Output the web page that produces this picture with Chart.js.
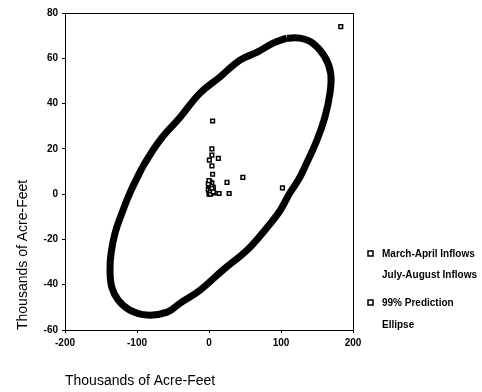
<!DOCTYPE html>
<html><head><meta charset="utf-8">
<script src="https://cdn.jsdelivr.net/npm/chart.js@4"></script>
<style>html,body{margin:0;padding:0;background:#fff}#w{width:482px;height:392px}</style>
</head><body><div id="w"><canvas id="c"></canvas></div>
<script>
const xTicks = [-200, -100, 0, 100, 200];
const yTicks = [-60, -40, -20, 0, 20, 40, 60, 80];
const marchAprilX = [183, 5, 4, 4, 0.5, 13, 4, 5, 25, 47, 102, 14, 28, 0, 1, 2, 3, 0, 2, 4, 1, 3, 5, 0, 6, 2, 7, -1, 1, 3, -1, 2, 4, 6, 0];
const marchAprilY = [74, 32.3, 20, 17.2, 15, 15.8, 12.5, 8.8, 5.2, 7.4, 2.8, 0.3, 0.3, 0, 1, 2, 0.5, 3, 4, 5, 5.5, 2, 1, 1.5, 3, 0, 0.5, 2, 3.5, 3.5, 4.5, 1.5, 2.5, 1, 6];
const julyAugustX = [];
const julyAugustY = [];
const ellipseX = [108, 126, 144, 161, 169, 168, 161, 150, 133, 124, 112, 99, 81, 53, 19, -12.5, -40, -58, -86, -110, -126, -135, -137.5, -136, -130.5, -121, -110, -100, -90, -68, -40, -12.5, 15, 43, 67, 89, 108];
const ellipseY = [68.9, 68.9, 66.7, 60.5, 53.4, 44.6, 34.0, 23.9, 11.9, 6.2, 0.4, -7.1, -14.6, -24.7, -33.6, -42.4, -48.1, -52.1, -53.4, -51.2, -46.8, -41.1, -33.6, -26.1, -17.2, -8.4, 0.4, 7.1, 13.2, 23.9, 34.0, 44.6, 51.7, 59.2, 62.7, 66.7, 68.9];
const legendLabels = [["March-April Inflows"], ["July-August Inflows"], ["99% Prediction", "Ellipse"]];
const axisTitle = "Thousands of Acre-Feet";

const pts = (xs, ys) => xs.map((x, i) => ({x, y: ys[i]}));
const FONT = "'Liberation Sans', Arial, sans-serif";

const framePlugin = {
  id: 'frame',
  afterDraw(chart) {
    const {ctx, chartArea: a} = chart;
    ctx.save();
    ctx.strokeStyle = '#000';
    ctx.lineWidth = 1;
    ctx.strokeRect(Math.round(a.left) + 0.5, Math.round(a.top) + 0.5, Math.round(a.right - a.left), Math.round(a.bottom - a.top));
    // legend
    ctx.fillStyle = '#000';
    ctx.font = "bold 10px " + FONT;
    ctx.textBaseline = 'middle';
    ctx.textAlign = 'left';
    const rows = [[254, true], [275, false], [303, true]];
    legendLabels.forEach((lines, i) => {
      const [y, marker] = rows[i];
      if (marker) {
        ctx.lineWidth = 1.5;
        ctx.strokeRect(368, y - 3, 5, 5);
      }
      lines.forEach((t, j) => ctx.fillText(t, 382, y + j * 22));
    });
    ctx.restore();
  }
};

new Chart(document.getElementById('c'), {
  type: 'scatter',
  data: {
    datasets: [
      {label: legendLabels[2].join(' '), data: pts(ellipseX, ellipseY), showLine: true, tension: 0.4,
       borderColor: '#000', borderWidth: 7, pointRadius: 0, fill: false},
      {label: legendLabels[0][0], data: pts(marchAprilX, marchAprilY), pointStyle: 'rect',
       pointRadius: 2.6, borderWidth: 1.5, borderColor: '#000', backgroundColor: '#fff'},
      {label: legendLabels[1][0], data: pts(julyAugustX, julyAugustY), pointRadius: 0}
    ]
  },
  options: {
    responsive: true, maintainAspectRatio: false, animation: false,
    layout: {padding: {top: 13, right: 129, left: 0, bottom: 0}},
    plugins: {legend: {display: false}, tooltip: {enabled: false}},
    scales: {
      x: {
        min: -200, max: 200,
        afterBuildTicks: s => { s.ticks = xTicks.map(v => ({value: v})); },
        afterFit: s => { s.height = 62; },
        ticks: {color: '#000', font: {family: FONT, size: 10, weight: 'bold'}, padding: 4, maxRotation: 0},
        grid: {display: true, drawOnChartArea: false, tickLength: 3, color: '#000'},
        border: {color: '#000', width: 1},
        title: {display: true, text: axisTitle, align: 'start', color: '#000',
                font: {family: FONT, size: 14}, padding: {top: 0, bottom: 2}}
      },
      y: {
        min: -60, max: 80,
        afterBuildTicks: s => { s.ticks = yTicks.map(v => ({value: v})); },
        afterFit: s => { s.width = 65; },
        ticks: {color: '#000', font: {family: FONT, size: 10, weight: 'bold'}, padding: 4},
        grid: {display: true, drawOnChartArea: false, tickLength: 3, color: '#000'},
        border: {color: '#000', width: 1},
        title: {display: true, text: axisTitle, align: 'start', color: '#000',
                font: {family: FONT, size: 14}, padding: {top: 15, bottom: 0}}
      }
    }
  },
  plugins: [framePlugin]
});
</script>
</body></html>
